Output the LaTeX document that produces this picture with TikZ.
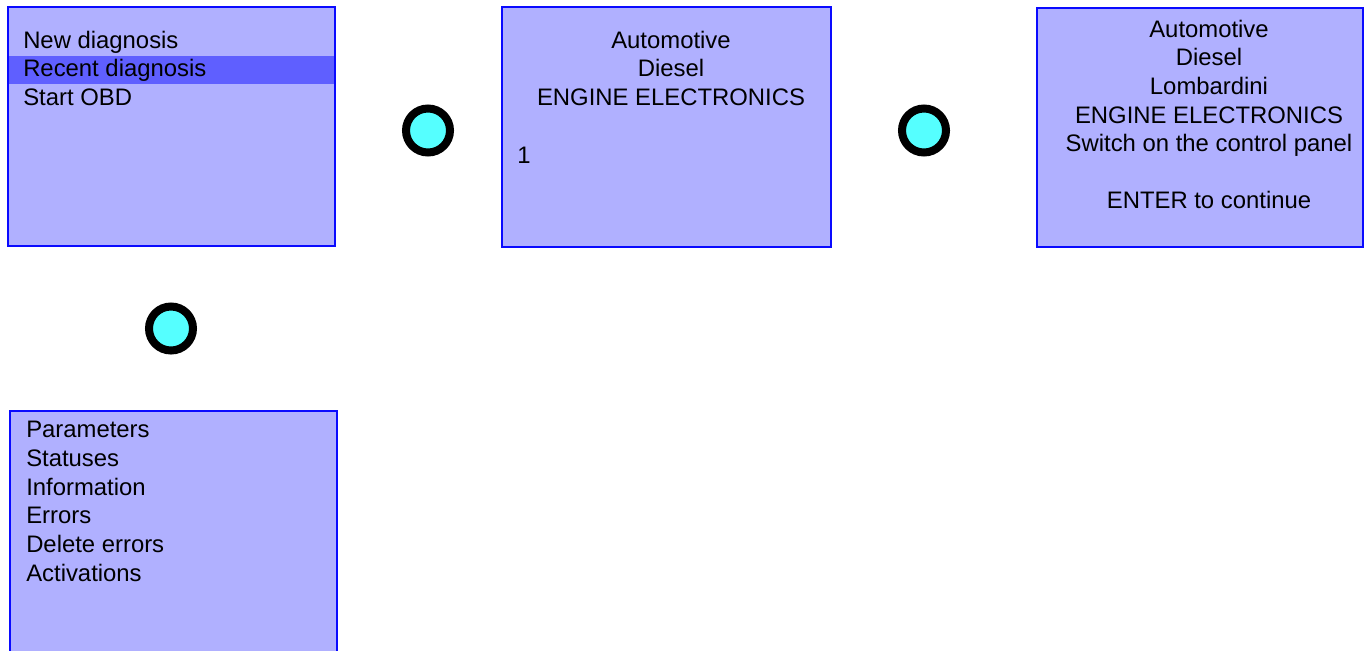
\documentclass[tikz,border=0pt]{standalone}
\usepackage{fontspec}
\setmainfont{Liberation Sans}
\usetikzlibrary{positioning}
\definecolor{screenfill}{HTML}{B0B0FF}
\definecolor{screenedge}{HTML}{0A0AFF}
\definecolor{selbar}{HTML}{5F5FFF}
\definecolor{ledfill}{HTML}{55FFFF}
\tikzset{
  screen/.style={draw=screenedge, line width=1.5pt, fill=screenfill, inner sep=0pt},
  selrow/.style={fill=selbar, inner sep=0pt, minimum width=243.5pt, minimum height=21pt},
  menuline/.style={anchor=base west, inner sep=0pt, font=\fontsize{17.9}{21}\selectfont},
  infoline/.style={anchor=base, inner sep=0pt, font=\fontsize{17.9}{21}\selectfont},
  led/.style={circle, draw=black, line width=6pt, fill=ledfill, minimum size=33pt, inner sep=0pt}
}

\begin{document}
\begin{tikzpicture}[x=0.75pt, y=-0.75pt]
  \useasboundingbox (0,0) rectangle (1364,650);
  % screens
  \node[screen, minimum width=245.25pt, minimum height=179.25pt] (main) at (171.5,126.5) {};
  \node[screen, minimum width=246.75pt, minimum height=180pt] (engine) at (666.5,127) {};
  \node[screen, minimum width=244.5pt, minimum height=179.25pt] (panel) at (1200,127.5) {};
  \node[screen, minimum width=245.25pt, minimum height=195pt] (diag) at (173.5,541) {};
  \node[selrow] (sel) at (171.5,70) {};
  % main menu
  \foreach \t [count=\i] in {New diagnosis, Recent diagnosis, Start OBD}
    \node[menuline] (main\i) at (23,{48.3+28.5*(\i-1)}) {\t};
  % engine screen
  \foreach \t [count=\i] in {Automotive, Diesel, ENGINE ELECTRONICS}
    \node[infoline] (engine\i) at (671,{48.3+28.5*(\i-1)}) {\t};
  \node[menuline] (engnum) at (517,163.5) {1};
  % control panel screen
  \foreach \k/\t in {0/Automotive, 1/Diesel, 2/Lombardini, 3/ENGINE ELECTRONICS, 4/Switch on the control panel, 6/ENTER to continue}
    \node[infoline] (panel\k) at (1209,{37.3+28.6*\k}) {\t};
  % diagnosis menu
  \foreach \t [count=\i] in {Parameters, Statuses, Information, Errors, Delete errors, Activations}
    \node[menuline] (diag\i) at (26,{437.5+28.8*(\i-1)}) {\t};
  % leds
  \node[led] (led1) at (428,130.5) {};
  \node[led] (led2) at (924,130.5) {};
  \node[led] (led3) at (171,328.5) {};
\end{tikzpicture}
\end{document}
